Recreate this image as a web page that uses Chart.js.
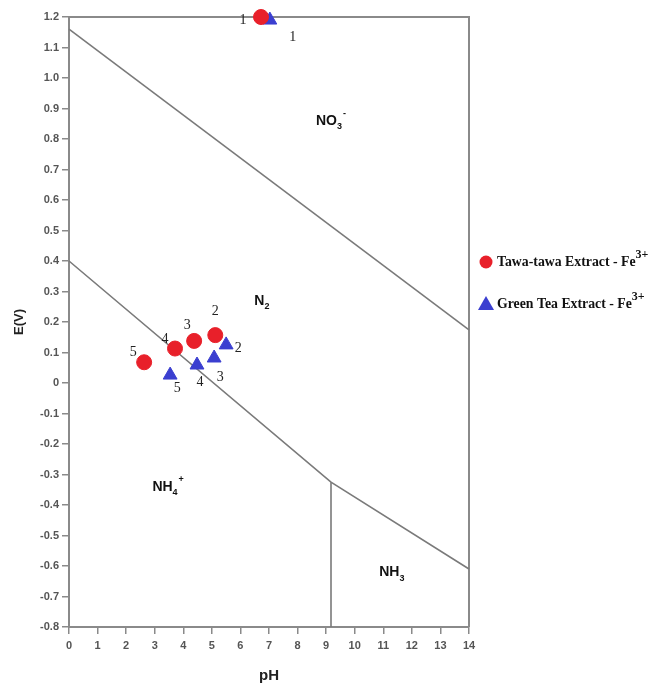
<!DOCTYPE html>
<html>
<head>
<meta charset="utf-8">
<script src="https://cdn.jsdelivr.net/npm/chart.js@4.4.1/dist/chart.umd.min.js"></script>
<style>
  html, body { margin: 0; padding: 0; background: #fff; }
  #wrap { width: 651px; height: 684px; }
</style>
</head>
<body>
<div id="wrap"><canvas id="pourbaix" width="651" height="684"></canvas></div>
<script>
// --- data ---
const tawaPH = [6.72, 5.12, 4.38, 3.71, 2.63];
const tawaE = [1.20, 0.157, 0.138, 0.113, 0.068];
const teaPH = [7.03, 5.50, 5.08, 4.48, 3.54];
const teaE = [1.19, 0.125, 0.082, 0.059, 0.026];
const pointNames = ['1', '2', '3', '4', '5'];

// boundary lines (pH, E)
const no3Line = [[0, 1.16], [14, 0.174]];
const nh4Line = [[0, 0.40], [9.17, -0.325], [14, -0.61]];
const nh3Line = [[9.17, -0.325], [9.17, -0.8]];

// region labels: [pH, E, main, sub, sup]
const regions = [
  [9.1, 0.86, 'NO', '3', '-'],
  [6.75, 0.27, 'N', '2', ''],
  [3.36, -0.34, 'NH', '4', '+'],
  [11.3, -0.62, 'NH', '3', '']
];

const xTicks = [0, 1, 2, 3, 4, 5, 6, 7, 8, 9, 10, 11, 12, 13, 14];

// label offsets in px (style only)
const tawaOff = [[-18, 3], [0, -24], [-7, -16], [-10, -9], [-11, -10]];
const teaOff = [[23, 17], [12, 3], [6, 19], [3, 17], [7, 13]];

const RED = '#e8202a';
const BLUE = '#3b3fd0';
const GREY = '#7a7a7a';
const SANS = "'Liberation Sans', Arial, sans-serif";
const tickFont = { family: SANS, size: 11, weight: 'bold' };

const toXY = arr => arr.map(p => ({ x: p[0], y: p[1] }));
const zip = (xs, ys) => xs.map((x, i) => ({ x: x, y: ys[i] }));

const lineDs = (pts) => ({
  data: toXY(pts), showLine: true, borderColor: GREY, borderWidth: 1.6,
  pointRadius: 0, order: 2, clip: false
});

const frame = {
  id: 'frame',
  beforeDatasetsDraw(chart) {
    const { ctx, chartArea: a } = chart;
    ctx.save();
    ctx.strokeStyle = '#8a8a8a';
    ctx.lineWidth = 2;
    ctx.beginPath();
    ctx.moveTo(a.left, a.top);
    ctx.lineTo(a.right, a.top);
    ctx.lineTo(a.right, a.bottom);
    ctx.stroke();
    ctx.restore();
  }
};

const annotations = {
  id: 'annotations',
  afterDatasetsDraw(chart) {
    const { ctx } = chart;
    const xs = chart.scales.x, ys = chart.scales.y;
    ctx.save();
    // point numbers
    ctx.fillStyle = '#222';
    ctx.font = "14px 'Liberation Serif', serif";
    ctx.textAlign = 'center';
    ctx.textBaseline = 'middle';
    pointNames.forEach((n, i) => {
      ctx.fillText(n, xs.getPixelForValue(tawaPH[i]) + tawaOff[i][0], ys.getPixelForValue(tawaE[i]) + tawaOff[i][1]);
      ctx.fillText(n, xs.getPixelForValue(teaPH[i]) + teaOff[i][0], ys.getPixelForValue(teaE[i]) + teaOff[i][1]);
    });
    // region labels
    ctx.fillStyle = '#111';
    ctx.textAlign = 'left';
    regions.forEach(r => {
      const main = 'bold 14px ' + SANS;
      const small = 'bold 9px ' + SANS;
      ctx.font = main;
      const w = ctx.measureText(r[2]).width;
      ctx.font = small;
      const ws = ctx.measureText(r[3]).width;
      let x = xs.getPixelForValue(r[0]) - (w + ws) / 2;
      const y = ys.getPixelForValue(r[1]);
      ctx.font = main;
      ctx.fillText(r[2], x, y);
      ctx.font = small;
      ctx.fillText(r[3], x + w, y + 6);
      if (r[4]) ctx.fillText(r[4], x + w + ws + 1, y - 7);
    });
    // legend
    const items = [
      [RED, 'circle', 'Tawa-tawa Extract - Fe', 262],
      [BLUE, 'triangle', 'Green Tea Extract - Fe', 304]
    ];
    items.forEach(it => {
      ctx.fillStyle = it[0];
      ctx.beginPath();
      if (it[1] === 'circle') {
        ctx.arc(486, it[3], 6.5, 0, Math.PI * 2);
      } else {
        ctx.moveTo(486, it[3] - 8);
        ctx.lineTo(494, it[3] + 6);
        ctx.lineTo(478, it[3] + 6);
        ctx.closePath();
      }
      ctx.fill();
      ctx.fillStyle = '#111';
      ctx.font = "bold 13.8px 'Liberation Serif', serif";
      ctx.textBaseline = 'middle';
      ctx.fillText(it[2], 497, it[3]);
      const tw = ctx.measureText(it[2]).width;
      ctx.font = "bold 12px 'Liberation Serif', serif";
      ctx.fillText('3+', 497 + tw, it[3] - 7);
    });
    ctx.restore();
  }
};

new Chart(document.getElementById('pourbaix'), {
  type: 'scatter',
  data: {
    datasets: [
      {
        label: 'Tawa-tawa Extract - Fe3+', data: zip(tawaPH, tawaE),
        backgroundColor: RED, borderColor: RED, pointStyle: 'circle',
        pointRadius: 7.5, order: 0, clip: false
      },
      {
        label: 'Green Tea Extract - Fe3+', data: zip(teaPH, teaE),
        backgroundColor: BLUE, borderColor: BLUE, pointStyle: 'triangle',
        pointRadius: 8, order: 0, clip: false
      },
      lineDs(no3Line),
      lineDs(nh4Line),
      lineDs(nh3Line)
    ]
  },
  options: {
    responsive: false,
    animation: false,
    layout: { padding: { top: 17, right: 182, left: 0, bottom: 0 } },
    plugins: { legend: { display: false }, tooltip: { enabled: false } },
    scales: {
      x: {
        type: 'linear', min: 0, max: 14,
        afterBuildTicks: s => { s.ticks = xTicks.map(v => ({ value: v })); },
        afterFit: s => { s.height = 57; },
        grid: { drawOnChartArea: false, tickLength: 7, color: '#8a8a8a', lineWidth: 1.5 },
        border: { color: '#8a8a8a', width: 2 },
        ticks: { color: '#555', font: tickFont, padding: 5, maxRotation: 0 },
        title: { display: true, text: 'pH', color: '#222', font: { family: SANS, size: 15, weight: 'bold' }, padding: { top: 10, bottom: -1 } }
      },
      y: {
        type: 'linear', min: -0.8, max: 1.2,
        ticks: {
          stepSize: 0.1, color: '#555', font: tickFont, padding: 3,
          callback: v => Math.abs(v) < 1e-9 ? '0' : v.toFixed(1)
        },
        afterFit: s => { s.width = 69; },
        grid: { drawOnChartArea: false, tickLength: 7, color: '#8a8a8a', lineWidth: 1.5 },
        border: { color: '#8a8a8a', width: 2 },
        title: { display: true, text: 'E(V)', color: '#222', font: { family: SANS, size: 13, weight: 'bold' }, padding: { top: 12, bottom: 0 } }
      }
    }
  },
  plugins: [frame, annotations]
});
</script>
</body>
</html>
